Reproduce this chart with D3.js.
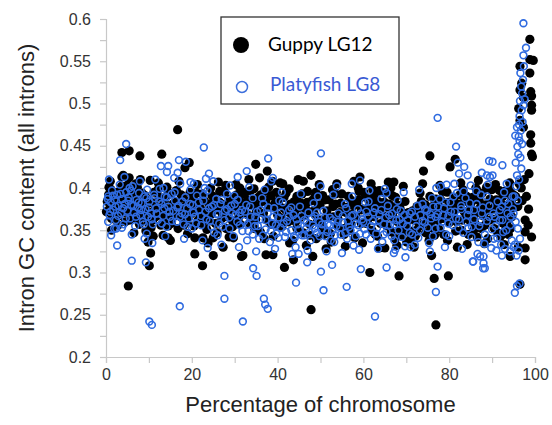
<!DOCTYPE html>
<html>
<head>
<meta charset="utf-8">
<script src="https://cdn.jsdelivr.net/npm/d3@7"></script>
<style>
  body { margin: 0; background: #fff; }
  .axis path, .axis line { stroke: #c8c8c8; stroke-width: 1.2; }
  .axis text { fill: #333; font-family: "Liberation Sans", Arial, sans-serif; font-size: 16px; }
</style>
</head>
<body>
<div id="chartarea"></div>
<script>
// series names
const seriesNames = ['Guppy LG12', 'Platyfish LG8'];

// axis ticks
const yTicks = [0.2, 0.225, 0.25, 0.275, 0.3, 0.325, 0.35, 0.375, 0.4, 0.425, 0.45, 0.475, 0.5, 0.525, 0.55, 0.575, 0.6];
const xTicks = [0, 10, 20, 30, 40, 50, 60, 70, 80, 90, 100];

// Guppy LG12: [percentage of chromosome, intron GC]
const guppyPoints = [
  [0.3,0.384],[0.6,0.392],[0.9,0.376],[1.2,0.398],[1.5,0.386],[1.8,0.371],[2.1,0.39],[2.4,0.381],[2.7,0.395],[3.0,0.367],
  [3.3,0.384],[3.6,0.402],[3.9,0.376],[4.2,0.389],[4.5,0.36],[4.8,0.395],[5.1,0.381],[5.4,0.371],
  [5.7,0.388],[6.0,0.398],[6.3,0.377],[6.6,0.365],[6.9,0.385],[7.2,0.392],[7.5,0.372],[7.8,0.357],[8.1,0.383],[8.4,0.394],
  [8.7,0.366],[9.0,0.378],[9.3,0.349],[9.6,0.387],[9.9,0.359],[10.2,0.371],[10.5,0.353],
  [10.8,0.382],[11.2,0.395],[11.6,0.366],[12.0,0.377],[12.4,0.389],[12.8,0.356],[13.2,0.372],[13.6,0.384],[14.0,0.363],
  [14.4,0.392],[14.8,0.375],[15.2,0.358],[15.6,0.381],[16.0,0.369],[16.4,0.397],[16.8,0.352],[17.2,0.378],[17.6,0.365],
  [18.0,0.388],[18.4,0.372],[18.8,0.36],[19.2,0.383],[19.6,0.395],
  [20.0,0.37],[20.5,0.355],[21.0,0.384],[21.5,0.362],[22.0,0.376],[22.5,0.393],[23.0,0.367],[23.5,0.351],[24.0,0.381],
  [24.5,0.369],[25.0,0.389],[25.5,0.358],[26.0,0.374],[26.5,0.396],[27.0,0.364],[27.5,0.38],[28.0,0.352],[28.5,0.371],
  [29.0,0.387],[29.5,0.361],[30.0,0.377],[30.5,0.392],[31.0,0.366],[31.5,0.383],
  [32.0,0.373],[32.5,0.395],[33.0,0.386],[33.5,0.358],[34.0,0.38],[34.5,0.399],[35.0,0.371],[35.5,0.389],[36.0,0.348],
  [36.5,0.384],[37.0,0.396],[37.5,0.362],[38.0,0.378],[38.5,0.391],[39.0,0.343],[39.5,0.383],[40.0,0.368],[40.5,0.387],
  [41.0,0.354],[41.5,0.376],[42.0,0.394],[42.5,0.36],[43.0,0.381],[43.5,0.338],[44.0,0.372],[44.5,0.39],
  [45.0,0.364],[45.5,0.382],[46.0,0.347],[46.5,0.376],[47.0,0.396],[47.5,0.357],[48.0,0.385],[48.5,0.37],[49.0,0.34],
  [49.5,0.379],[50.0,0.362],[50.5,0.391],[51.0,0.35],[51.5,0.373],[52.0,0.386],[52.5,0.336],[53.0,0.366],[53.5,0.381],
  [54.0,0.355],[54.5,0.371],[55.0,0.393],[55.5,0.345],[56.0,0.377],[56.5,0.36],[57.0,0.386],[57.5,0.369],[58.0,0.341],
  [58.5,0.382],[59.0,0.396],[59.5,0.358],
  [60.0,0.375],[60.5,0.389],[61.0,0.362],[61.5,0.38],[62.0,0.35],[62.5,0.392],[63.0,0.371],[63.5,0.384],[64.0,0.358],
  [64.5,0.377],[65.0,0.394],[65.5,0.366],[66.0,0.381],[66.5,0.348],[67.0,0.372],[67.5,0.389],[68.0,0.36],[68.5,0.377],
  [69.0,0.344],[69.5,0.366],
  [70.0,0.352],[70.5,0.371],[71.0,0.339],[72.0,0.362],[72.5,0.378],[73.0,0.355],[73.5,0.384],[74.0,0.369],[74.5,0.347],
  [75.0,0.376],[75.5,0.39],[76.0,0.361],[76.5,0.38],[77.0,0.37],[77.5,0.352],[78.0,0.386],[78.5,0.364],[79.0,0.375],[79.5,0.395],
  [80.0,0.359],[80.5,0.381],[81.0,0.368],[81.5,0.349],[82.0,0.376],[82.5,0.392],[83.0,0.362],[83.5,0.384],[84.0,0.37],
  [84.5,0.345],[85.0,0.378],[85.5,0.389],[86.0,0.358],[86.5,0.372],[87.0,0.385],[87.5,0.352],[88.0,0.367],[88.5,0.38],
  [89.0,0.34],[89.5,0.362],
  [90.0,0.375],[90.5,0.352],[91.0,0.386],[91.5,0.365],[92.0,0.343],[92.5,0.38],[93.0,0.393],[93.5,0.36],[94.0,0.372],[94.5,0.385],
  // second pass through the band
  [0.1,0.372],[0.7,0.401],[1.3,0.364],[1.9,0.389],[2.5,0.373],[3.1,0.396],[3.7,0.382],[4.3,0.371],[4.9,0.403],[5.5,0.362],
  [6.1,0.385],[6.7,0.374],[7.3,0.401],[7.9,0.368],[8.5,0.38],[9.1,0.391],[9.7,0.372],[10.3,0.384],[10.9,0.362],[11.5,0.379],
  [12.1,0.398],[12.7,0.368],[13.3,0.386],[13.9,0.375],[14.5,0.355],[15.1,0.393],[15.7,0.366],[16.3,0.383],[16.9,0.371],
  [17.5,0.392],[18.1,0.356],[18.7,0.379],[19.3,0.365],[19.9,0.387],
  [20.5,0.377],[21.1,0.394],[21.7,0.371],[22.3,0.358],[22.9,0.385],[23.5,0.373],[24.1,0.361],[24.7,0.391],[25.3,0.378],
  [25.9,0.347],[26.5,0.383],[27.1,0.37],[27.7,0.395],[28.3,0.366],[28.9,0.379],[29.5,0.354],[30.1,0.388],[30.7,0.371],
  [31.3,0.357],[31.9,0.393],
  [32.5,0.381],[33.1,0.368],[33.7,0.397],[34.3,0.386],[34.9,0.363],[35.5,0.379],[36.1,0.392],[36.7,0.37],[37.3,0.385],
  [37.9,0.401],[38.5,0.357],[39.1,0.377],[39.7,0.395],[40.3,0.38],[40.9,0.364],[41.5,0.389],[42.1,0.372],[42.7,0.399],
  [43.3,0.367],[43.9,0.384],[44.5,0.352],
  [45.1,0.377],[45.7,0.393],[46.3,0.368],[46.9,0.383],[47.5,0.344],[48.1,0.372],[48.7,0.39],[49.3,0.361],[49.9,0.38],
  [50.5,0.355],[51.1,0.386],[51.7,0.366],[52.3,0.346],[52.9,0.378],[53.5,0.393],[54.1,0.363],[54.7,0.382],[55.3,0.352],
  [55.9,0.371],[56.5,0.39],[57.1,0.357],[57.7,0.379],[58.3,0.366],[58.9,0.386],[59.5,0.374],
  [60.1,0.395],[60.7,0.358],[61.3,0.373],[61.9,0.387],[62.5,0.366],[63.1,0.38],[63.7,0.397],[64.3,0.369],[64.9,0.383],
  [65.5,0.355],[66.1,0.376],[66.7,0.391],[67.3,0.363],[67.9,0.38],[68.5,0.35],[69.1,0.371],[69.7,0.384],
  [70.3,0.36],[70.9,0.349],[71.5,0.373],[72.1,0.343],[72.7,0.366],[73.3,0.37],[73.9,0.357],[74.5,0.38],[75.1,0.365],
  [75.7,0.353],[76.3,0.373],[76.9,0.387],[77.5,0.362],[78.1,0.376],[78.7,0.345],[79.3,0.368],[79.9,0.383],
  [80.5,0.37],[81.1,0.388],[81.7,0.36],[82.3,0.381],[82.9,0.35],[83.5,0.372],[84.1,0.39],[84.7,0.362],[85.3,0.384],
  [85.9,0.368],[86.5,0.342],[87.1,0.376],[87.7,0.394],[88.3,0.356],[88.9,0.373],[89.5,0.387],
  [90.1,0.363],[90.7,0.379],[91.3,0.347],[91.9,0.372],[92.5,0.39],[93.1,0.365],[93.7,0.38],[94.3,0.352],[94.9,0.377],
  // band edges
  [1.0,0.408],[2.8,0.356],[4.0,0.415],[6.5,0.347],[8.0,0.41],[11.0,0.343],[12.2,0.406],[15.0,0.338],[17.0,0.408],
  [19.0,0.346],[21.3,0.404],[23.8,0.335],[26.2,0.407],[28.7,0.342],[30.3,0.404],[33.3,0.41],[35.8,0.412],[36.9,0.34],
  [38.8,0.408],[41.2,0.405],[42.8,0.335],[44.8,0.41],[46.7,0.332],[49.7,0.404],[51.3,0.328],[53.8,0.405],[55.8,0.331],
  [57.8,0.408],[59.8,0.335],[61.8,0.405],[63.3,0.343],[65.8,0.407],[67.8,0.332],[69.3,0.402],[71.8,0.33],[73.8,0.405],
  [75.3,0.338],[77.8,0.403],[79.6,0.338],[82.7,0.406],[84.2,0.333],[86.8,0.409],[88.2,0.334],[90.8,0.404],[92.8,0.333],
  [94.1,0.406],
  [2.0,0.363],[7.0,0.405],[14.2,0.401],[24.4,0.4],[27.9,0.403],[31.2,0.4],[34.6,0.352],[39.8,0.356],[44.2,0.36],
  [50.8,0.345],[52.8,0.398],[56.8,0.35],[58.8,0.4],[62.8,0.345],[66.4,0.4],[68.8,0.355],[72.4,0.35],[76.6,0.344],
  [78.4,0.396],[83.2,0.398],[85.7,0.35],[91.7,0.397],[93.8,0.345],
  // scattered points away from the band
  [16.7,0.469],[3.7,0.442],[5.4,0.444],[7.9,0.438],[13,0.44],[19.4,0.43],[18.4,0.424],[3.7,0.413],[5.4,0.412],[10.3,0.409],
  [5.2,0.284],[10.1,0.308],[10.4,0.323],[22.5,0.308],[20.7,0.322],[25,0.32],[20.7,0.341],[22.6,0.341],[25,0.341],[29.7,0.341],
  [27.3,0.33],[31.6,0.319],[14.5,0.341],[13.3,0.344],[9.8,0.336],[1.3,0.35],
  [34.9,0.428],[37.6,0.42],[46,0.408],[47.8,0.415],[40.6,0.406],[59.2,0.413],[62.2,0.398],[64,0.396],[48.9,0.395],
  [41.6,0.306],[47.8,0.256],[61.5,0.3],[65,0.329],[48.2,0.319],[43.7,0.315],[37.3,0.321],[38.9,0.321],[31.9,0.32],
  [75.5,0.438],[74,0.42],[81.4,0.434],[80.2,0.425],[67.1,0.407],[73.2,0.394],[86.2,0.4],[88.7,0.401],
  [76.9,0.238],[76.5,0.293],[79.8,0.296],[68.3,0.296],[75.9,0.32],[81.9,0.33],[63.7,0.329],[70.1,0.336],[67.4,0.34],
  [86.4,0.398],[89.1,0.4],[89.9,0.398],[93,0.396],[94.2,0.398],[94.9,0.392],[91.5,0.378],[92.6,0.37],[94.2,0.374],
  [94.6,0.366],[92.6,0.358],[93.2,0.35],
  // chromosome end
  [98.8,0.576],[98.8,0.552],[99.6,0.551],[96.5,0.544],[98.8,0.536],[96.9,0.524],[96.5,0.516],[99,0.514],[99.2,0.509],
  [97.3,0.507],[99.2,0.498],[99.2,0.492],[96.2,0.494],[96.5,0.48],[97.3,0.472],[99,0.463],[99,0.453],[99.2,0.44],
  [99.4,0.437],[98.6,0.417],[97.7,0.362],[98.4,0.356],[99.2,0.342],[97.7,0.348],[96.1,0.33],[94.2,0.319],[97.7,0.329],
  [97.7,0.315],[96.5,0.286],[96.8,0.4],[97.5,0.41],[98,0.39],[96,0.378],[97,0.385],[98.5,0.375],[95.5,0.39],[96.3,0.405]
];

// Platyfish LG8: [percentage of chromosome, intron GC]
const platyfishPoints = [
  [0.2,0.378],[0.5,0.39],[0.8,0.368],[1.1,0.383],[1.4,0.397],[1.7,0.374],[2.0,0.386],[2.3,0.362],[2.6,0.392],[2.9,0.379],
  [3.2,0.404],[3.5,0.37],[3.8,0.387],[4.1,0.357],[4.4,0.381],[4.7,0.395],[5.0,0.373],[5.3,0.389],[5.6,0.364],[5.9,0.38],
  [6.2,0.402],[6.5,0.371],[6.8,0.355],[7.1,0.386],[7.4,0.377],[7.7,0.394],[8.0,0.368],[8.3,0.382],[8.6,0.36],[8.9,0.39],
  [9.2,0.375],[9.5,0.346],[9.8,0.366],
  [10.1,0.384],[10.5,0.37],[10.9,0.357],[11.3,0.388],[11.7,0.376],[12.1,0.362],[12.5,0.399],[12.9,0.381],[13.3,0.367],
  [13.7,0.39],[14.1,0.354],[14.5,0.378],[14.9,0.366],[15.3,0.393],[15.7,0.373],[16.1,0.385],[16.5,0.36],[16.9,0.379],
  [17.3,0.405],[17.7,0.37],[18.1,0.357],[18.5,0.389],[18.9,0.376],[19.3,0.364],[19.7,0.398],
  [20.2,0.38],[20.7,0.366],[21.2,0.391],[21.7,0.374],[22.2,0.356],[22.7,0.385],[23.2,0.372],[23.7,0.397],[24.2,0.361],
  [24.7,0.378],[25.2,0.347],[25.7,0.387],[26.2,0.369],[26.7,0.381],[27.2,0.354],[27.7,0.373],[28.2,0.393],[28.7,0.365],
  [29.2,0.379],[29.7,0.343],[30.2,0.368],[30.7,0.386],[31.2,0.356],[31.7,0.374],
  [32.2,0.361],[32.7,0.38],[33.2,0.349],[33.7,0.366],[34.2,0.388],[34.7,0.355],[35.2,0.372],[35.7,0.34],[36.2,0.363],
  [36.7,0.381],[37.2,0.351],[37.7,0.37],[38.2,0.336],[38.7,0.358],[39.2,0.376],[39.7,0.346],[40.2,0.365],[40.7,0.353],
  [41.2,0.383],[41.7,0.342],[42.2,0.361],[42.7,0.374],[43.2,0.35],[43.7,0.368],[44.2,0.33],[44.7,0.357],
  [45.2,0.378],[45.7,0.344],[46.2,0.362],[46.7,0.352],[47.2,0.371],[47.7,0.338],[48.2,0.356],[48.7,0.367],[49.2,0.347],
  [49.7,0.36],[50.2,0.351],[50.7,0.373],[51.2,0.343],[51.7,0.357],[52.2,0.365],[52.7,0.349],[53.2,0.336],[53.7,0.355],
  [54.2,0.37],[54.7,0.345],[55.2,0.359],[55.7,0.381],[56.2,0.34],[56.7,0.354],[57.2,0.367],[57.7,0.332],[58.2,0.358],
  [58.7,0.375],[59.2,0.346],[59.7,0.363],
  [60.2,0.351],[60.7,0.372],[61.2,0.384],[61.7,0.34],[62.2,0.361],[62.7,0.376],[63.2,0.353],[63.7,0.369],[64.2,0.387],
  [64.7,0.345],[65.2,0.365],[65.7,0.379],[66.2,0.356],[66.7,0.37],[67.2,0.338],[67.7,0.362],[68.2,0.35],[68.7,0.373],
  [69.2,0.358],[69.7,0.331],
  [70.3,0.362],[70.8,0.347],[71.3,0.372],[72.3,0.355],[72.8,0.341],[73.3,0.368],[73.8,0.381],[74.3,0.359],[74.8,0.373],
  [75.3,0.335],[75.8,0.364],[76.3,0.378],[76.8,0.352],[77.3,0.369],[77.8,0.387],[78.3,0.36],[78.8,0.376],[79.3,0.345],[79.8,0.367],
  [80.3,0.383],[80.8,0.356],[81.3,0.372],[81.8,0.394],[82.3,0.363],[82.8,0.379],[83.3,0.347],[83.8,0.388],[84.3,0.368],
  [84.8,0.382],[85.3,0.354],[85.8,0.374],[86.3,0.396],[86.8,0.336],[87.3,0.36],[87.8,0.377],[88.3,0.345],[88.8,0.39],
  [89.3,0.366],[89.8,0.329],
  [90.3,0.37],[90.8,0.355],[91.3,0.384],[91.8,0.362],[92.3,0.378],[92.8,0.395],[93.3,0.35],[93.8,0.381],[94.3,0.366],[94.8,0.39],
  // second pass through the band
  [0.4,0.387],[1.0,0.372],[1.6,0.391],[2.2,0.378],[2.8,0.367],[3.4,0.393],[4.0,0.376],[4.6,0.364],[5.2,0.385],[5.8,0.397],
  [6.4,0.379],[7.0,0.366],[7.6,0.383],[8.2,0.374],[8.8,0.357],[9.4,0.388],[10.0,0.377],[10.6,0.363],[11.2,0.392],[11.8,0.37],
  [12.4,0.384],[13.0,0.358],[13.6,0.376],[14.2,0.389],[14.8,0.372],[15.4,0.361],[16.0,0.395],[16.6,0.377],[17.2,0.366],
  [17.8,0.384],[18.4,0.369],[19.0,0.354],[19.6,0.381],
  [20.4,0.371],[21.0,0.358],[21.6,0.383],[22.2,0.367],[22.8,0.392],[23.4,0.363],[24.0,0.376],[24.6,0.354],[25.2,0.38],
  [25.8,0.369],[26.4,0.358],[27.0,0.386],[27.6,0.362],[28.2,0.375],[28.8,0.352],[29.4,0.37],[30.0,0.381],[30.6,0.36],
  [31.2,0.371],[31.8,0.349],
  [32.4,0.372],[33.0,0.357],[33.6,0.378],[34.2,0.345],[34.8,0.366],[35.4,0.355],[36.0,0.374],[36.6,0.344],[37.2,0.362],
  [37.8,0.377],[38.4,0.349],[39.0,0.366],[39.6,0.356],[40.2,0.341],[40.8,0.371],[41.4,0.358],[42.0,0.348],[42.6,0.366],
  [43.2,0.377],[43.8,0.343],[44.4,0.363],[45.0,0.351],
  [45.6,0.367],[46.2,0.344],[46.8,0.359],[47.4,0.348],[48.0,0.364],[48.6,0.352],[49.2,0.371],[49.8,0.343],[50.4,0.357],
  [51.0,0.365],[51.6,0.348],[52.2,0.356],[52.8,0.362],[53.4,0.344],[54.0,0.36],[54.6,0.353],[55.2,0.367],[55.8,0.347],
  [56.4,0.361],[57.0,0.35],[57.6,0.368],[58.2,0.343],[58.8,0.356],[59.4,0.37],
  [60.0,0.36],[60.6,0.345],[61.2,0.366],[61.8,0.355],[62.4,0.371],[63.0,0.346],[63.6,0.362],[64.2,0.374],[64.8,0.357],
  [65.4,0.348],[66.0,0.368],[66.6,0.343],[67.2,0.357],[67.8,0.375],[68.4,0.363],[69.0,0.342],[69.6,0.368],
  [70.2,0.355],[70.8,0.37],[71.4,0.345],[72.0,0.366],[72.6,0.379],[73.2,0.35],[73.8,0.361],[74.4,0.375],[75.0,0.353],
  [75.6,0.369],[76.2,0.343],[76.8,0.366],[77.4,0.378],[78.0,0.353],[78.6,0.368],[79.2,0.383],[79.8,0.358],
  [80.4,0.372],[81.0,0.39],[81.6,0.364],[82.2,0.352],[82.8,0.375],[83.4,0.396],[84.0,0.36],[84.6,0.374],[85.2,0.342],
  [85.8,0.363],[86.4,0.381],[87.0,0.355],[87.6,0.37],[88.2,0.334],[88.8,0.361],[89.4,0.379],
  [90.0,0.351],[90.6,0.366],[91.2,0.341],[91.8,0.374],[92.4,0.362],[93.0,0.385],[93.6,0.37],[94.2,0.356],[94.8,0.375],
  // band edges
  [0.7,0.41],[2.4,0.352],[4.3,0.413],[6.0,0.345],[7.9,0.408],[9.0,0.34],[11.5,0.41],[13.8,0.343],[15.9,0.412],
  [18.2,0.34],[20.5,0.405],[22.5,0.338],[25.0,0.408],[26.9,0.333],[28.9,0.403],[31.0,0.33],[33.4,0.401],[35.0,0.325],
  [37.0,0.398],[39.4,0.328],[41.0,0.395],[43.4,0.322],[45.4,0.393],[47.0,0.326],[49.4,0.39],[51.4,0.325],[53.0,0.392],
  [55.0,0.323],[57.4,0.39],[59.0,0.327],[61.4,0.397],[63.4,0.328],[65.0,0.399],[67.4,0.327],[69.4,0.395],[71.0,0.33],
  [73.0,0.398],[75.5,0.325],[77.0,0.4],[79.0,0.33],[81.2,0.405],[83.0,0.328],[85.0,0.403],[86.6,0.322],[89.0,0.404],
  [91.0,0.326],[93.4,0.405],[94.6,0.338],
  [1.9,0.352],[5.5,0.4],[9.6,0.398],[13.4,0.4],[20.0,0.352],[23.0,0.4],[26.0,0.344],[29.9,0.391],[32.9,0.338],
  [36.4,0.388],[40.4,0.385],[44.0,0.341],[48.4,0.382],[52.4,0.338],[56.0,0.376],[60.4,0.383],[64.4,0.336],[68.0,0.385],
  [72.0,0.333],[76.0,0.388],[80.0,0.343],[84.4,0.352],[87.4,0.392],[90.4,0.34],[92.6,0.348],
  // scattered points away from the band
  [4.7,0.452],[3.3,0.433],[22.8,0.448],[17,0.433],[18.6,0.431],[12.8,0.426],[14.5,0.426],[16.7,0.418],[14.2,0.419],
  [32.8,0.42],[30.7,0.413],[24,0.417],[23.3,0.411],[19.7,0.407],[2.6,0.332],[6,0.314],[9.3,0.312],[10.1,0.242],
  [10.7,0.238],[17.2,0.26],[27.6,0.296],[27.6,0.269],[31.9,0.242],[23.7,0.329],[1.2,0.344],[3.7,0.353],[10.8,0.335],
  [0.5,0.36],
  [50.1,0.441],[37.8,0.435],[38.9,0.412],[38.5,0.408],[50,0.402],[53.8,0.402],[57.3,0.405],[59.2,0.409],[65.4,0.394],
  [34.3,0.305],[35.1,0.296],[44.3,0.288],[36.8,0.269],[37.1,0.262],[37.7,0.257],[50.7,0.279],[56.1,0.283],[50.1,0.301],
  [59.4,0.304],[65.4,0.306],[62.7,0.248],[44.9,0.322],[46.9,0.312],[52.7,0.309],
  [77.3,0.483],[81.6,0.449],[82,0.43],[83.5,0.425],[82.3,0.417],[84.3,0.415],[87.6,0.418],[88.8,0.415],[89.3,0.432],
  [78,0.402],[79.4,0.404],[76.9,0.277],[77.3,0.307],[87.9,0.305],[85.5,0.313],[87.2,0.319],[69.8,0.318],[67.1,0.323],
  [90.1,0.431],[92.4,0.427],[89.5,0.413],[90.1,0.415],[85.6,0.313],[88,0.311],[88.3,0.305],[88,0.319],
  [92.1,0.333],[93,0.328],[94.2,0.325],[95,0.33],[92.3,0.32],
  // chromosome end
  [95.2,0.39],[95.6,0.402],[96.0,0.385],[95.8,0.415],[96.3,0.41],[96.8,0.423],[95.5,0.43],[96.1,0.44],[96.6,0.436],
  [95.9,0.449],[96.4,0.456],[97.0,0.452],[96.2,0.461],[96.7,0.468],[95.8,0.472],[97.1,0.478],[96.4,0.485],[96.9,0.492],
  [97.3,0.498],[96.5,0.503],[97.0,0.512],[96.8,0.52],[97.2,0.528],[96.6,0.536],[97.4,0.544],[97.3,0.557],[97.9,0.566],
  [97.3,0.595],[97.6,0.505],[96.3,0.475],[95.4,0.462],[95,0.37],[95.5,0.36],[96,0.352],[96.5,0.34],[95.3,0.333],
  [96.2,0.326],[95.7,0.32],[95.3,0.276],[95.8,0.284],[96.4,0.287]
];

const margin = { top: 19, right: 17, bottom: 68, left: 106 };
const width = 552 - margin.left - margin.right;
const height = 425 - margin.top - margin.bottom;

const svg = d3.select('#chartarea')
  .append('svg')
    .attr('width', 552)
    .attr('height', 425);

const group = svg.append('g')
  .attr('transform', `translate(${margin.left}, ${margin.top})`);

const x = d3.scaleLinear().domain([0, 100]).range([0, width]);
const y = d3.scaleLinear().domain([0.2, 0.6]).range([height, 0]);

const yAxis = d3.axisLeft(y)
  .tickValues(yTicks)
  .tickSize(6)
  .tickPadding(9)
  .tickFormat(d => Math.round(d * 1000) % 50 === 0 ? String(+d.toFixed(2)) : '');
group.append('g').attr('class', 'axis').call(yAxis);

const xAxis = d3.axisBottom(x)
  .tickValues(xTicks)
  .tickSize(6)
  .tickPadding(6)
  .tickFormat(d => d % 20 === 0 ? d : '');
group.append('g')
  .attr('class', 'axis')
  .attr('transform', `translate(0, ${height})`)
  .call(xAxis);

// guppy, filled black
group.append('g').selectAll('circle')
  .data(guppyPoints)
  .enter().append('circle')
    .attr('cx', d => x(d[0]))
    .attr('cy', d => y(d[1]))
    .attr('r', 4.6)
    .attr('fill', '#000');

// platyfish, open blue rings
group.append('g').selectAll('circle')
  .data(platyfishPoints)
  .enter().append('circle')
    .attr('cx', d => x(d[0]))
    .attr('cy', d => y(d[1]))
    .attr('r', 3.4)
    .attr('fill', 'none')
    .attr('stroke', '#2f6be0')
    .attr('stroke-width', 1.6);

// axis labels
svg.append('text')
  .attr('x', margin.left + width / 2)
  .attr('y', 412)
  .attr('text-anchor', 'middle')
  .attr('font-family', '"Liberation Sans", Arial, sans-serif')
  .attr('font-size', '22px')
  .attr('fill', '#222')
  .text('Percentage of chromosome');

svg.append('text')
  .attr('transform', `translate(34, ${margin.top + height / 2}) rotate(-90)`)
  .attr('text-anchor', 'middle')
  .attr('font-family', '"Liberation Sans", Arial, sans-serif')
  .attr('font-size', '22px')
  .attr('fill', '#222')
  .text('Intron GC content (all introns)');

// legend
const legend = svg.append('g');
legend.append('rect')
  .attr('x', 221).attr('y', 17)
  .attr('width', 178).attr('height', 87)
  .attr('fill', '#fff')
  .attr('stroke', '#333')
  .attr('stroke-width', 1.3);
legend.append('circle')
  .attr('cx', 241).attr('cy', 45).attr('r', 8)
  .attr('fill', '#000');
legend.append('circle')
  .attr('cx', 242).attr('cy', 87).attr('r', 5.5)
  .attr('fill', 'none')
  .attr('stroke', '#3d6fdc')
  .attr('stroke-width', 1.5);
legend.append('text')
  .attr('x', 268).attr('y', 51)
  .attr('font-family', 'Lato, "Open Sans", sans-serif')
  .attr('font-size', '19px')
  .attr('fill', '#000')
  .text(seriesNames[0]);
legend.append('text')
  .attr('x', 270).attr('y', 91)
  .attr('font-family', 'Lato, "Open Sans", sans-serif')
  .attr('font-size', '19px')
  .attr('fill', '#3a5ad4')
  .text(seriesNames[1]);
</script>
</body>
</html>
